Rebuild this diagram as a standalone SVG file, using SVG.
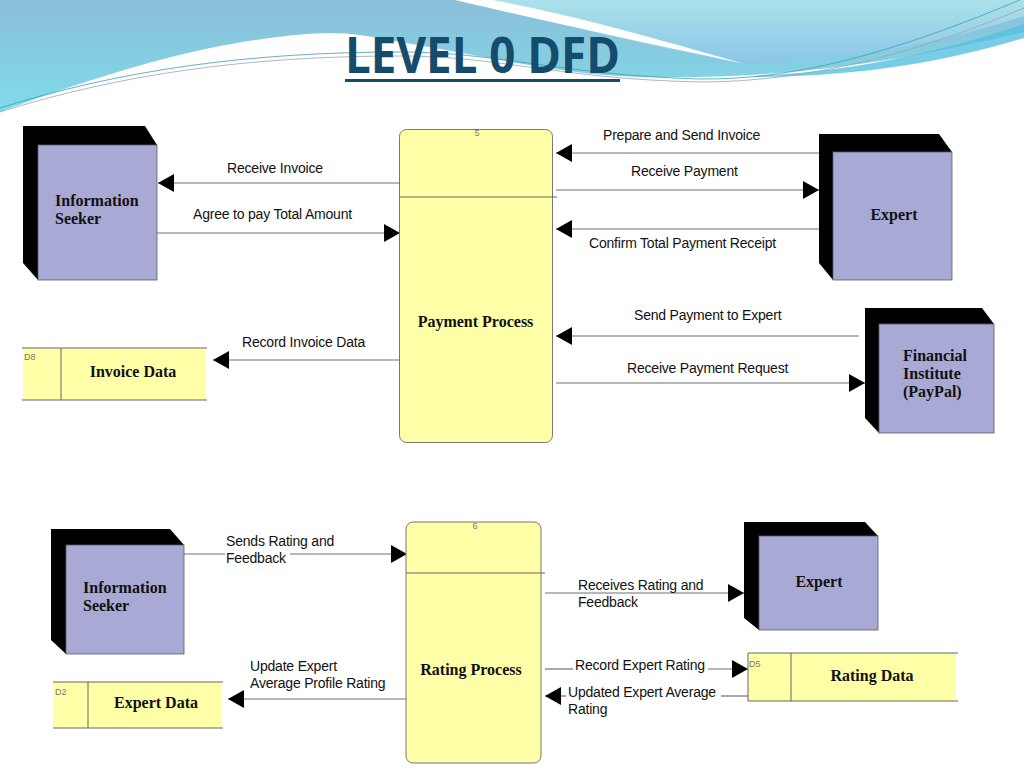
<svg xmlns="http://www.w3.org/2000/svg" width="1024" height="768" viewBox="0 0 1024 768">
<defs>
<linearGradient id="gBlue" x1="0" y1="0" x2="0" y2="1">
<stop offset="0" stop-color="#8cbfd9"/>
<stop offset="1" stop-color="#7edbea"/>
</linearGradient>
<linearGradient id="gRight" x1="0" y1="0" x2="0" y2="1">
<stop offset="0" stop-color="#abe1e9"/>
<stop offset="1" stop-color="#8ac6e8"/>
</linearGradient>
<marker id="ah" markerUnits="userSpaceOnUse" markerWidth="16" markerHeight="18" viewBox="0 0 16 18" refX="16" refY="9" orient="auto">
<path d="M0,0 L16,9 L0,18 Z" fill="#000"/>
</marker>
<style>
.lbl{font-family:"Liberation Sans",Arial,sans-serif;font-size:14px;letter-spacing:-0.2px;fill:#111}
.bold{font-family:"Liberation Serif","Times New Roman",serif;font-size:16px;font-weight:bold;fill:#111}
.small{font-family:"Liberation Sans",Arial,sans-serif;font-size:9px;fill:#777}
.face{fill:#a9a9d6;stroke:#5a5a6a;stroke-width:0.8}
.shadow{fill:#000}
.proc{fill:#ffffa8;stroke:#777;stroke-width:1}
.sfill{fill:#ffffa8}
.sline{stroke:#666;stroke-width:1;fill:none}
.flow{stroke:#707070;stroke-width:1.2;fill:none}
.arr{marker-end:url(#ah)}
</style>
</defs>
<rect width="1024" height="768" fill="#ffffff"/>
<g id="background">
<path d="M0,0 H1024 V32 C900,62 780,80 640,77 C560,75 480,55 400,42 C370,36 350,33 330,33 C220,36 100,75 0,112 Z" fill="url(#gBlue)"/>
<path d="M470,0 H1024 V16 C950,40 850,62 742,64 C650,48 560,22 470,0 Z" fill="url(#gRight)"/>
<path d="M455,0 C540,20 640,42 745,64 C640,34 560,12 492,0 Z" fill="#ffffff"/>
<path d="M755,76 C870,70 950,48 1024,24 L1024,38 C950,60 870,76 755,77 Z" fill="#55c1e0" opacity="0.8"/>
<path d="M0,108 C120,70 250,52 400,52 C500,52 560,75 700,79 C800,80 900,50 1020,0" fill="none" stroke="#3d9fb3" stroke-width="0.8"/>
<path d="M0,112 C120,74 250,56 400,56 C500,56 560,79 700,82 C810,82 920,52 1024,8" fill="none" stroke="#9aa6aa" stroke-width="0.8"/>
</g>
<g id="title">
<text x="345" y="73" font-family="'Open Sans',sans-serif" font-weight="bold" font-size="50" fill="#154b6b" textLength="275" lengthAdjust="spacingAndGlyphs">LEVEL 0 DFD</text>
<rect x="345" y="79" width="275" height="3" fill="#154b6b"/>
</g>
<g id="connectors">
<path class="flow arr" d="M400,183 L158,183"/>
<path class="flow arr" d="M157,233 L400,233"/>
<path class="flow arr" d="M400,360 L213,360"/>
<path class="flow arr" d="M819,153 L556,153"/>
<path class="flow arr" d="M556,190 L819,190"/>
<path class="flow arr" d="M819,229 L556,229"/>
<path class="flow arr" d="M859,336 L556,336"/>
<path class="flow arr" d="M556,383 L865,383"/>
<path class="flow" d="M184,554 L225,554"/>
<path class="flow arr" d="M290,554 L407,554"/>
<path class="flow arr" d="M545,593 L744,593"/>
<path class="flow" d="M545,669 L573,669"/>
<path class="flow arr" d="M708,669 L748,669"/>
<path class="flow" d="M748,696 L721,696"/>
<path class="flow arr" d="M566,696 L545,696"/>
<path class="flow arr" d="M407,699 L228,699"/>
<text class="lbl" x="227" y="173">Receive Invoice</text>
<text class="lbl" x="193" y="219">Agree to pay Total Amount</text>
<text class="lbl" x="242" y="347">Record Invoice Data</text>
<text class="lbl" x="603" y="140">Prepare and Send Invoice</text>
<text class="lbl" x="631" y="176">Receive Payment</text>
<text class="lbl" x="589" y="248">Confirm Total Payment Receipt</text>
<text class="lbl" x="634" y="320">Send Payment to Expert</text>
<text class="lbl" x="627" y="373">Receive Payment Request</text>
<text class="lbl" x="226" y="546">Sends Rating and</text>
<text class="lbl" x="226" y="563">Feedback</text>
<text class="lbl" x="578" y="590">Receives Rating and</text>
<text class="lbl" x="578" y="607">Feedback</text>
<text class="lbl" x="575" y="670">Record Expert Rating</text>
<text class="lbl" x="568" y="697">Updated Expert Average</text>
<text class="lbl" x="568" y="714">Rating</text>
<text class="lbl" x="250" y="671">Update Expert</text>
<text class="lbl" x="250" y="688">Average Profile Rating</text>
</g>
<g id="info-seeker-1">
<polygon class="shadow" points="23,126 145,126 157,145 157,280 38,280 23,263"/>
<rect class="face" x="38" y="145" width="119" height="135"/>
<text class="bold" x="55" y="206">Information</text>
<text class="bold" x="55" y="224">Seeker</text>
</g>
<g id="payment-process">
<rect class="proc" x="399.5" y="129.5" width="153" height="313" rx="7"/>
<line class="sline" x1="400" y1="197" x2="557" y2="197"/>
<text class="small" x="477" y="136" text-anchor="middle">5</text>
<text class="bold" x="475.5" y="327" text-anchor="middle">Payment Process</text>
</g>
<g id="invoice-data">
<rect class="sfill" x="23" y="348" width="183" height="52"/>
<line class="sline" x1="22" y1="348" x2="207" y2="348"/>
<line class="sline" x1="22" y1="400" x2="207" y2="400"/>
<line class="sline" x1="61" y1="348" x2="61" y2="400"/>
<text class="small" x="24" y="360">D8</text>
<text class="bold" x="133" y="377" text-anchor="middle">Invoice Data</text>
</g>
<g id="expert-1">
<polygon class="shadow" points="819,134 939,134 952,152 952,280 833,280 819,263"/>
<rect class="face" x="833" y="152" width="119" height="128"/>
<text class="bold" x="894" y="220" text-anchor="middle">Expert</text>
</g>
<g id="financial-institute">
<polygon class="shadow" points="865,308 982,308 994,324 994,433 879,433 865,418"/>
<rect class="face" x="879" y="324" width="115" height="109"/>
<text class="bold" x="903" y="361">Financial</text>
<text class="bold" x="903" y="379">Institute</text>
<text class="bold" x="903" y="397">(PayPal)</text>
</g>
<g id="info-seeker-2">
<polygon class="shadow" points="51,529 170,529 184,545 184,654 66,654 51,640"/>
<rect class="face" x="66" y="545" width="118" height="109"/>
<text class="bold" x="83" y="593">Information</text>
<text class="bold" x="83" y="611">Seeker</text>
</g>
<g id="rating-process">
<rect class="proc" x="406" y="522" width="135" height="241" rx="7"/>
<line class="sline" x1="406" y1="573" x2="545" y2="573"/>
<text class="small" x="475" y="529" text-anchor="middle">6</text>
<text class="bold" x="471" y="675" text-anchor="middle">Rating Process</text>
</g>
<g id="expert-2">
<polygon class="shadow" points="744,522 865,522 878,536 878,630 759,630 744,618"/>
<rect class="face" x="759" y="536" width="119" height="94"/>
<text class="bold" x="819" y="587" text-anchor="middle">Expert</text>
</g>
<g id="rating-data">
<rect class="sfill" x="748" y="653" width="208" height="48"/>
<line class="sline" x1="748" y1="653" x2="958" y2="653"/>
<line class="sline" x1="748" y1="701" x2="958" y2="701"/>
<line class="sline" x1="748" y1="653" x2="748" y2="701"/>
<line class="sline" x1="791" y1="653" x2="791" y2="701"/>
<text class="small" x="749" y="667">D5</text>
<text class="bold" x="872" y="681" text-anchor="middle">Rating Data</text>
</g>
<g id="expert-data">
<rect class="sfill" x="53" y="682" width="168" height="46"/>
<line class="sline" x1="53" y1="682" x2="223" y2="682"/>
<line class="sline" x1="53" y1="728" x2="223" y2="728"/>
<line class="sline" x1="88" y1="682" x2="88" y2="728"/>
<text class="small" x="55" y="695">D2</text>
<text class="bold" x="156" y="708" text-anchor="middle">Expert Data</text>
</g>
</svg>
